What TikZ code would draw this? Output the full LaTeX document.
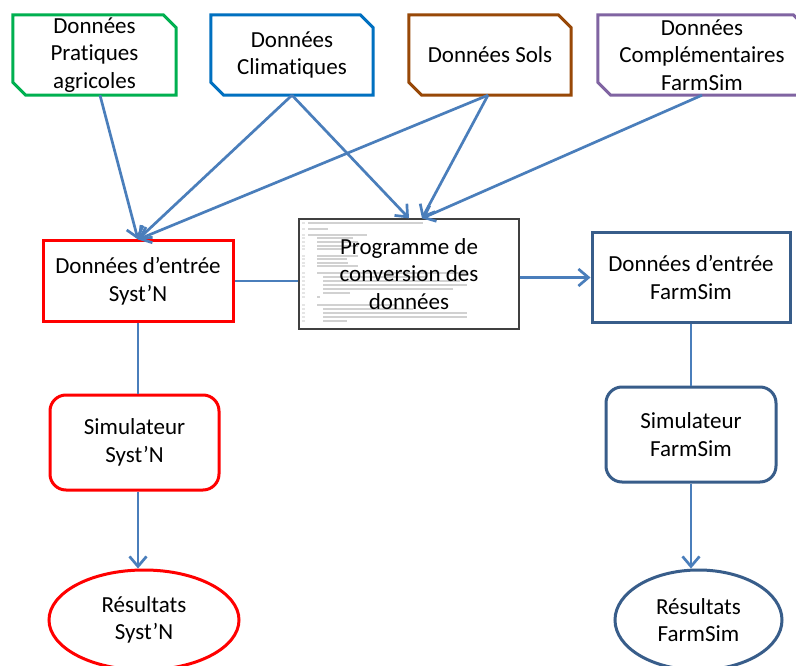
\documentclass[tikz,border=0pt]{standalone}
\usepackage{fontspec}
\setmainfont[Ligatures=NoCommon]{Carlito}
\usetikzlibrary{arrows.meta,calc,shapes.geometric}
\definecolor{cgreen}{HTML}{00B050}
\definecolor{cblue}{HTML}{0070C0}
\definecolor{cbrown}{HTML}{984807}
\definecolor{cpurple}{HTML}{8064A2}
\definecolor{cred}{HTML}{FF0000}
\definecolor{cdark}{HTML}{385D8A}
\definecolor{carrow}{HTML}{4A7EBB}
\newcommand{\snipoutline}[2]{%
  \draw[#2, line width=3pt, line join=miter]
    (#1.north west) -- ($(#1.north east)+(-13pt,0)$) -- ($(#1.north east)+(0,-13pt)$)
    -- (#1.south east) -- ($(#1.south west)+(13pt,0)$) -- ($(#1.south west)+(0,13pt)$) -- cycle;}
\begin{document}
\begin{tikzpicture}[x=1pt,y=-1pt,
  font=\fontsize{23}{27.5}\selectfont,
  box/.style={rectangle, align=center, inner sep=0pt},
  conn/.style={draw=carrow, line width=2.7pt},
  arr/.style={conn, -{Straight Barb[length=10pt,width=17pt,line width=2.7pt]}},
  codeline/.style={black!18, line width=1.5pt}]
\clip (0,0) rectangle (796,666);
\fill[white] (0,0) rectangle (796,666);

% top snipped boxes
\node[box, minimum width=163pt, minimum height=80pt] (pa) at (94.5,55) {Données\\Pratiques\\agricoles};
\snipoutline{pa}{cgreen}
\node[box, minimum width=162pt, minimum height=80pt] (pc) at (292,55) {Données\\Climatiques};
\snipoutline{pc}{cblue}
\node[box, minimum width=162pt, minimum height=80pt] (ps) at (490,55) {Données Sols};
\snipoutline{ps}{cbrown}
\node[box, minimum width=208pt, minimum height=80pt] (pf) at (702,55) {Données\\Complémentaires\\FarmSim};
\snipoutline{pf}{cpurple}

% program box with faint code
\node[box, draw=black!75, line width=1.3pt, minimum width=220pt, minimum height=110pt] (prog) at (409,274) {};
\foreach \y/\a/\b in {223/308/423, 229/308/328, 235/308/367, 238/317/353, 242/317/358,
  246/317/358, 249/317/344, 256/317/358, 259/317/347, 263/317/348, 266/317/358,
  273/317/467, 277/323/427, 281/323/460, 285/323/467, 289/323/453, 293/323/350,
  297/317/320, 305/317/397, 309/323/413, 313/323/467, 317/323/467, 321/323/347}
  {\draw[codeline] (\a,\y) -- (\b,\y); \draw[codeline, black!10] (302,\y) -- (305,\y);}
\node[box] (progtext) at (prog.center) {Programme de\\conversion des\\données};

% middle row
\node[box, draw=cred, line width=3pt, minimum width=190pt, minimum height=80pt] (sin) at (138,281) {Données d’entrée\\Syst’N};
\node[box, draw=cdark, line width=3pt, minimum width=198pt, minimum height=89pt] (fin) at (691,277.5) {Données d’entrée\\FarmSim};

% simulators
\node[box, draw=cred, line width=3pt, rounded corners=16pt, minimum width=169pt, minimum height=95pt] (ssim) at (134.5,442.5) {Simulateur\\Syst’N};
\node[box, draw=cdark, line width=3pt, rounded corners=16pt, minimum width=170pt, minimum height=95pt] (fsim) at (691,434.5) {Simulateur\\FarmSim};

% results
\node[ellipse, draw=cred, line width=3pt, inner sep=0pt, minimum width=190pt, minimum height=100pt, align=center] (sres) at (144,620) {Résultats\\Syst’N};
\node[ellipse, draw=cdark, line width=3pt, inner sep=0pt, minimum width=167pt, minimum height=100pt, align=center] (fres) at (698.5,620) {Résultats\\FarmSim};

% connectors
\draw[arr] ($(pa.south)+(5.5pt,0)$) -- (sin.north);
\draw[arr] (pc.south) -- (sin.north);
\draw[arr] (pc.south) -- (prog.north);
\draw[arr] ($(ps.south)+(-2pt,0)$) -- (sin.north);
\draw[arr] ($(ps.south)+(-2pt,0)$) -- ($(prog.north)+(13pt,0)$);
\draw[arr] (pf.south) -- ($(prog.north)+(13pt,0)$);

\draw[conn] (sin.east) -- (sin.east -| prog.west);
\draw[arr] (prog.east |- fin.west) -- (fin.west);

\draw[conn] (sin.south) -- (sin.south |- ssim.north);
\draw[arr] (sin.south |- ssim.south) -- (sin.south |- sres.north);
\draw[conn] (fin.south) -- (fin.south |- fsim.north);
\draw[arr] (fin.south |- fsim.south) -- (fin.south |- fres.north);
\end{tikzpicture}
\end{document}
